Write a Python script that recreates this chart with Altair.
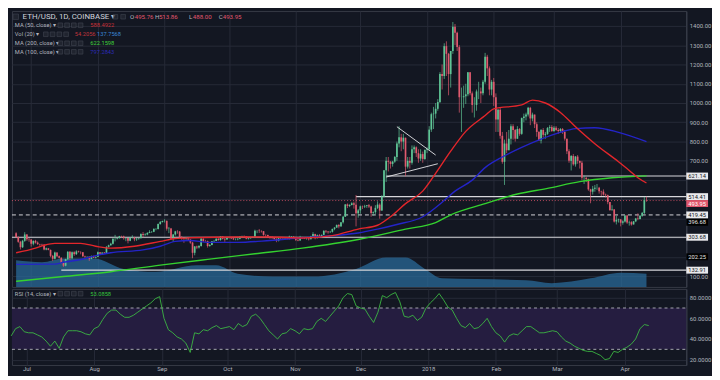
import altair as alt
import pandas as pd

FONT = "Roboto"
BG = "#131722"
GRID = "#262b38"
AXC = "#b2b5be"
UP = "#5fc596"
DOWN = "#e05a6e"
RED_MA = "#e3262b"
BLUE_MA = "#2424c8"
GREEN_MA = "#34d12f"

SX, SY = 704 / 720, 364 / 380
W, H1, H2, AXW = 682, 279, 77, 22

# ---------------- daily candles (Coinbase ETH/USD), 2017-06-24 .. 2018-04-13
FIRST_OPEN = 325
CLOSE_JUN = [305, 280, 252, 285, 318, 293, 292]
HIGH_JUN = [330, 308, 285, 290, 330, 320, 300]
LOW_JUN = [300, 275, 240, 248, 280, 285, 280]
CLOSE_JUL = [270, 285, 276, 268, 266, 265, 240, 246, 238, 207, 192, 224, 205, 197, 170, 156, 190, 228, 195, 226,
             216, 230, 227, 226, 205, 202, 203, 192, 206, 198, 202]
HIGH_JUL = [293, 287, 290, 282, 270, 270, 268, 250, 248, 240, 212, 229, 225, 209, 200, 173, 192, 232, 232, 230,
            231, 236, 234, 231, 226, 208, 206, 205, 209, 208, 204]
LOW_JUL = [255, 262, 271, 264, 259, 258, 236, 236, 236, 200, 180, 188, 200, 193, 168, 150, 153, 185, 187, 190,
           207, 212, 224, 215, 202, 190, 195, 181, 190, 196, 194]
CLOSE_AUG = [226, 218, 224, 221, 254, 262, 270, 296, 296, 299, 309, 308, 299, 300, 286, 301, 302, 293, 296, 298,
             321, 315, 318, 326, 331, 332, 347, 347, 372, 383, 388]
HIGH_AUG = [230, 226, 226, 227, 257, 265, 275, 298, 316, 301, 311, 312, 312, 303, 300, 303, 314, 306, 300, 300,
            324, 331, 324, 330, 340, 335, 350, 351, 375, 388, 390]
LOW_AUG = [201, 217, 212, 217, 220, 250, 260, 266, 282, 292, 297, 300, 291, 283, 272, 283, 297, 283, 285, 291,
           298, 303, 312, 314, 325, 326, 330, 340, 344, 369, 380]
CLOSE_SEP = [389, 348, 349, 296, 318, 334, 333, 304, 298, 294, 297, 292, 276, 223, 256, 250, 258, 296, 284, 283,
             258, 263, 283, 284, 295, 289, 308, 296, 292, 302]
HIGH_SEP = [397, 390, 357, 352, 320, 337, 340, 336, 310, 298, 304, 302, 293, 280, 258, 260, 263, 300, 298, 290,
            286, 268, 284, 290, 300, 300, 310, 310, 299, 304]
LOW_SEP = [380, 338, 325, 290, 280, 312, 322, 300, 290, 275, 290, 290, 270, 195, 210, 242, 245, 255, 279, 281,
           250, 255, 262, 277, 284, 286, 286, 292, 280, 291]
CLOSE_OCT = [303, 298, 293, 293, 296, 308, 310, 309, 297, 299, 303, 303, 338, 338, 336, 335, 316, 315, 308, 304,
             301, 295, 286, 298, 297, 296, 297, 294, 306, 306, 304]
HIGH_OCT = [305, 303, 299, 298, 298, 310, 312, 313, 310, 302, 304, 307, 343, 340, 346, 340, 336, 318, 317, 307,
            310, 303, 298, 301, 301, 299, 300, 299, 312, 310, 310]
LOW_OCT = [297, 294, 289, 288, 288, 293, 302, 304, 293, 292, 296, 300, 300, 325, 326, 328, 312, 300, 306, 296,
           295, 290, 278, 282, 294, 290, 292, 293, 292, 300, 300]
CLOSE_NOV = [290, 287, 305, 300, 297, 297, 293, 309, 320, 299, 314, 307, 316, 337, 333, 330, 332, 347, 354, 367,
             360, 381, 410, 474, 466, 471, 480, 472, 428, 443]
HIGH_NOV = [306, 295, 311, 306, 304, 304, 301, 311, 330, 322, 318, 320, 318, 340, 340, 335, 337, 348, 356, 370,
            372, 381, 415, 475, 479, 475, 485, 488, 523, 450]
LOW_NOV = [284, 283, 286, 295, 294, 291, 287, 293, 305, 293, 298, 300, 303, 314, 326, 322, 326, 328, 340, 352,
           350, 360, 375, 409, 455, 460, 469, 452, 360, 405]
CLOSE_DEC = [464, 463, 466, 470, 463, 430, 434, 456, 473, 442, 515, 651, 700, 695, 684, 696, 720, 790, 822, 800,
             820, 670, 700, 690, 760, 770, 740, 712, 735, 710, 756]
HIGH_DEC = [468, 468, 472, 470, 476, 467, 438, 470, 490, 480, 522, 651, 720, 720, 699, 700, 725, 800, 880, 840,
            840, 820, 720, 720, 780, 780, 775, 760, 760, 748, 760]
LOW_DEC = [426, 450, 455, 456, 455, 410, 415, 425, 450, 400, 440, 510, 590, 645, 660, 670, 690, 700, 770, 750,
           760, 620, 660, 660, 680, 740, 720, 690, 700, 690, 705]
CLOSE_JAN = [760, 862, 942, 945, 970, 1005, 1150, 1140, 1295, 1255, 1150, 1270, 1395, 1365, 1290, 1030, 1030, 1035,
             1045, 1160, 1050, 990, 990, 1060, 1060, 1050, 1110, 1240, 1180, 1070, 1110]
HIGH_JAN = [770, 880, 950, 980, 1000, 1020, 1160, 1200, 1310, 1320, 1260, 1270, 1420, 1410, 1370, 1300, 1080, 1090,
            1100, 1160, 1160, 1060, 1030, 1070, 1110, 1080, 1120, 1260, 1250, 1190, 1120]
LOW_JAN = [740, 755, 850, 865, 920, 960, 1000, 1070, 1125, 1140, 1040, 1080, 1255, 1300, 1270, 950, 850, 975,
           995, 1035, 1040, 950, 925, 960, 1020, 1000, 1040, 1100, 1140, 1040, 1040]
CLOSE_FEB = [1030, 915, 965, 830, 695, 790, 755, 815, 880, 860, 815, 865, 840, 922, 930, 940, 975, 920, 940, 890,
             850, 805, 860, 835, 840, 870, 875, 855]
HIGH_FEB = [1130, 1050, 970, 975, 850, 810, 850, 860, 890, 890, 865, 880, 870, 925, 945, 950, 980, 980, 950, 940,
            900, 855, 865, 870, 850, 875, 885, 885]
LOW_FEB = [985, 850, 850, 815, 685, 575, 740, 755, 785, 810, 800, 815, 830, 835, 900, 910, 930, 885, 905, 870,
           825, 805, 790, 820, 815, 835, 850, 850]
CLOSE_MAR = [872, 860, 855, 865, 850, 815, 750, 700, 725, 682, 722, 700, 690, 612, 612, 605, 552, 540, 555, 560,
             560, 542, 540, 525, 522, 486, 445, 448, 385, 394, 396]
HIGH_MAR = [880, 880, 870, 870, 870, 860, 815, 760, 730, 735, 725, 730, 700, 700, 624, 616, 608, 555, 570, 575,
            580, 565, 545, 552, 530, 525, 486, 470, 450, 415, 400]
LOW_MAR = [850, 855, 840, 850, 840, 805, 735, 690, 650, 675, 670, 685, 660, 600, 580, 590, 545, 480, 525, 540,
           550, 530, 518, 520, 510, 475, 440, 440, 380, 370, 380]
CLOSE_APR = [379, 386, 416, 380, 382, 370, 386, 401, 398, 415, 430, 495.76, 493.95]
HIGH_APR = [398, 392, 418, 420, 390, 387, 388, 404, 428, 418, 435, 513, 513.86]
LOW_APR = [360, 369, 380, 373, 364, 364, 370, 382, 392, 396, 410, 424, 488]

CLOSE = CLOSE_JUN + CLOSE_JUL + CLOSE_AUG + CLOSE_SEP + CLOSE_OCT + CLOSE_NOV + CLOSE_DEC + CLOSE_JAN + CLOSE_FEB + CLOSE_MAR + CLOSE_APR
HIGH = HIGH_JUN + HIGH_JUL + HIGH_AUG + HIGH_SEP + HIGH_OCT + HIGH_NOV + HIGH_DEC + HIGH_JAN + HIGH_FEB + HIGH_MAR + HIGH_APR
LOW = LOW_JUN + LOW_JUL + LOW_AUG + LOW_SEP + LOW_OCT + LOW_NOV + LOW_DEC + LOW_JAN + LOW_FEB + LOW_MAR + LOW_APR

# ---------------- indicator lines
MA50_D = ["2017-06-24", "2017-07-03", "2017-07-07", "2017-07-12", "2017-07-24", "2017-07-31", "2017-08-07",
          "2017-08-18", "2017-08-30", "2017-09-06", "2017-09-13", "2017-10-05", "2017-10-20", "2017-11-04",
          "2017-11-18", "2017-11-30", "2017-12-09", "2017-12-15", "2017-12-22", "2017-12-30", "2018-01-05",
          "2018-01-12", "2018-01-19", "2018-01-28", "2018-02-01", "2018-02-14", "2018-02-19", "2018-02-25",
          "2018-03-04", "2018-03-11", "2018-03-20", "2018-03-31", "2018-04-05", "2018-04-09", "2018-04-13"]
MA50_V = [223, 247, 262, 272, 272, 257, 247, 257, 282, 297, 301, 305, 305, 300, 312, 346, 366, 410, 478, 543,
          635, 750, 853, 935, 970, 990, 1015, 1000, 951, 877, 789, 695, 650, 612, 585]
MA100_D = ["2017-06-24", "2017-07-12", "2017-07-16", "2017-07-24", "2017-07-31", "2017-08-07", "2017-08-22",
           "2017-08-30", "2017-09-06", "2017-09-13", "2017-09-21", "2017-10-05", "2017-10-20", "2017-11-04",
           "2017-11-18", "2017-11-30", "2017-12-09", "2017-12-18", "2017-12-30", "2018-01-08", "2018-01-14",
           "2018-01-22", "2018-01-28", "2018-02-05", "2018-02-14", "2018-02-23", "2018-03-04", "2018-03-11",
           "2018-03-20", "2018-03-31", "2018-04-13"]
MA100_V = [163, 164, 174, 188, 208, 223, 238, 257, 282, 287, 277, 277, 287, 301, 312, 326, 346, 370, 410, 485,
           543, 600, 665, 720, 770, 813, 848, 867, 872, 848, 800]
MA200_D = ["2017-06-24", "2017-07-16", "2017-08-07", "2017-08-30", "2017-09-21", "2017-10-13", "2017-11-04",
           "2017-11-30", "2017-12-22", "2018-01-05", "2018-01-12", "2018-01-28", "2018-02-12", "2018-02-26",
           "2018-03-13", "2018-03-28", "2018-04-13"]
MA200_V = [75, 100, 125, 159, 189, 218, 247, 292, 346, 380, 420, 478, 528, 557, 592, 612, 622]
VOL_D = ["2017-06-24", "2017-07-06", "2017-07-16", "2017-07-30", "2017-08-13", "2017-08-28", "2017-09-16",
         "2017-09-25", "2017-10-05", "2017-10-21", "2017-11-09", "2017-11-29", "2017-12-13", "2017-12-22",
         "2017-12-31", "2018-01-08", "2018-02-16", "2018-02-28", "2018-03-18", "2018-04-01", "2018-04-13"]
VOL_V = [276, 256, 295, 295, 187, 157, 226, 226, 138, 108, 108, 187, 305, 305, 187, 89, 69, 39, 89, 148, 138]

# RSI(14), read every second day from 2017-06-24
RSI = [43, 50, 52, 47, 46, 46, 44, 42, 38, 33, 38, 31, 42, 48, 48, 48, 47, 45, 44, 50,
       52, 59, 65, 68, 68, 64, 61, 61, 63, 66, 69, 72, 75, 79, 81, 60, 49, 46, 42, 40,
       36, 27, 46, 45, 49, 48, 51, 53, 50, 51, 52, 49, 55, 52, 54, 62, 64, 60, 54, 48,
       44, 40, 45, 46, 50, 48, 45, 50, 49, 50, 57, 60, 57, 62, 67, 72, 80, 84, 83, 72,
       70, 69, 62, 56, 66, 82, 80, 83, 85, 76, 62, 61, 63, 58, 61, 70, 75, 79, 84, 78,
       71, 68, 60, 53, 51, 55, 50, 51, 55, 60, 52, 46, 43, 37, 43, 45, 44, 48, 52, 52,
       49, 46, 46, 47, 48, 47, 42, 38, 36, 33, 31, 29, 28, 28, 26, 24, 20, 21, 28, 27,
       30, 32, 35, 40, 50, 54, 53]

# drawn trendlines and horizontal levels
TL_ID = ["upper", "upper", "lower", "lower"]
TL_D = ["2017-12-18", "2018-01-05", "2017-12-13", "2018-01-06"]
TL_P = [877, 730, 616, 685]
RAY_D = ["2017-12-13", "2017-11-29", "2017-07-15"]
RAY_P = [621.14, 514.41, 132.91]
FULL_LINE = 303.68
DASH_LEVEL = 419.45
LAST_PRICE = 493.95
AXIS_TAGS = [621.14, 514.41, 493.95, 419.45, 396.68, 303.68, 202.25, 132.91]
TAG_KIND = ["ray", "ray", "last", "ray", "mark", "ray", "mark", "ray"]

# ---------------- frames
dates = pd.date_range("2017-06-24", periods=len(CLOSE), freq="D")
assert len(CLOSE) == len(HIGH) == len(LOW) == 294
opens = [FIRST_OPEN] + CLOSE[:-1]
candles = pd.DataFrame({"date": dates.strftime("%Y-%m-%d"), "open": opens, "close": CLOSE,
                        "high": HIGH, "low": LOW})
candles["high"] = candles[["high", "open", "close"]].max(axis=1)
candles["low"] = candles[["low", "open", "close"]].min(axis=1)
candles["dir"] = ["up" if c >= o else "down" for o, c in zip(candles.open, candles.close)]

rsi_df = pd.DataFrame({"date": pd.date_range("2017-06-24", periods=len(RSI), freq="2D").strftime("%Y-%m-%d"),
                       "rsi": RSI})

XS = alt.Scale(type="utc", domain=[alt.DateTime(year=2017, month=6, date=24, hours=8, minutes=38, utc=True),
                                   alt.DateTime(year=2018, month=4, date=29, hours=5, utc=True)])
MONTHS = [alt.DateTime(year=y, month=m, date=1, utc=True)
          for y, m in [(2017, 7), (2017, 8), (2017, 9), (2017, 10), (2017, 11), (2017, 12),
                       (2018, 1), (2018, 2), (2018, 3), (2018, 4)]]
AX_X_MAIN = alt.Axis(values=MONTHS, labels=False, ticks=False, domain=False, grid=True, gridColor=GRID,
                     title=None, minExtent=0, maxExtent=0)
AX_X_RSI = alt.Axis(values=MONTHS, labelExpr="utcFormat(datum.value, '%m') == '01' ? utcFormat(datum.value, '%Y') : utcFormat(datum.value, '%b')",
                    labelColor=AXC, labelFontSize=6, labelFont=FONT, labelPadding=1, ticks=False,
                    domain=False, grid=True, gridColor=GRID, title=None, minExtent=8, maxExtent=8,
                    labelFlush=False)
PY = alt.Scale(domain=[46, 1477], zero=False, nice=False)
# price labels that sit under the level tags on the right are left blank, as in the reference
AX_PY = alt.Axis(orient="right", values=list(range(100, 1500, 100)),
                 labelExpr="datum.value >= 200 && datum.value <= 600 ? '' : format(datum.value, '.2f')",
                 labelColor=AXC, labelFontSize=6, labelFont=FONT, labelPadding=3, ticks=False, domain=True,
                 domainColor="#3b404d", grid=True, gridColor=GRID, title=None, minExtent=AXW, maxExtent=AXW)
RY = alt.Scale(domain=[14.8, 88.5], zero=False, nice=False)
AX_RY = alt.Axis(orient="right", values=[20, 40, 60, 80], format=".4f", labelColor=AXC, labelFontSize=6,
                 labelFont=FONT, labelPadding=3, ticks=False, domain=True, domainColor="#3b404d",
                 grid=True, gridColor=GRID, title=None, minExtent=AXW, maxExtent=AXW)


def XM(field="date"):
    return alt.X(field + ":T", scale=XS, axis=AX_X_MAIN)


def YP(field):
    return alt.Y(field + ":Q", scale=PY, axis=AX_PY)


def XR(field="date"):
    return alt.X(field + ":T", scale=XS, axis=AX_X_RSI)


def YR(field):
    return alt.Y(field + ":Q", scale=RY, axis=AX_RY)


def text(txt, xr, yr, color, size, top=0, weight="normal"):
    return alt.Chart(pd.DataFrame({"t": [txt]})).mark_text(
        align="left", baseline="middle", font=FONT, fontSize=size, color=color, fontWeight=weight
    ).encode(x=alt.value(xr * SX), y=alt.value((yr - top) * SY), text="t:N")


def icon(xr, yr, top=0, s=22):
    return alt.Chart(pd.DataFrame({"i": [0]})).mark_square(
        size=s, filled=True, color="#262a35", stroke="#555a66", strokeWidth=0.6
    ).encode(x=alt.value(xr * SX), y=alt.value((yr - top) * SY))


# ---------------- main panel
vol = alt.Chart(pd.DataFrame({"date": VOL_D, "vol": VOL_V})).mark_area(
    interpolate="monotone", color="#2a6a98", opacity=0.75
).encode(x=XM(), y=alt.Y("vol:Q", scale=alt.Scale(domain=[0, 2864], nice=False), axis=None))

rays = alt.Chart(pd.DataFrame({"date": RAY_D, "price": RAY_P})).mark_rule(
    color="#d6d6da", strokeWidth=1.1).encode(x=XM(), x2=alt.value(W), y=YP("price"))
full = alt.Chart(pd.DataFrame({"price": [FULL_LINE]})).mark_rule(
    color="#d6d6da", strokeWidth=1.1).encode(x=alt.value(0), x2=alt.value(W), y=YP("price"))
dash = alt.Chart(pd.DataFrame({"price": [DASH_LEVEL]})).mark_rule(
    color="#d6d6da", strokeWidth=1, strokeDash=[4, 3]).encode(x=alt.value(0), x2=alt.value(W), y=YP("price"))
lastl = alt.Chart(pd.DataFrame({"price": [LAST_PRICE]})).mark_rule(
    color="#e0566c", strokeWidth=0.8, strokeDash=[1, 2]).encode(x=alt.value(0), x2=alt.value(W), y=YP("price"))

ccol = alt.Color("dir:N", scale=alt.Scale(domain=["up", "down"], range=[UP, DOWN]), legend=None)
wicks = alt.Chart(candles).mark_rule(strokeWidth=0.7).encode(x=XM(), y=YP("low"), y2="high:Q", color=ccol)
bodies = alt.Chart(candles).mark_bar(size=1.7).encode(x=XM(), y=YP("open"), y2="close:Q", color=ccol)


def ma(d, v, color):
    return alt.Chart(pd.DataFrame({"date": d, "value": v})).mark_line(
        color=color, strokeWidth=1.4, interpolate="monotone").encode(x=XM(), y=YP("value"))


trend = alt.Chart(pd.DataFrame({"id": TL_ID, "date": TL_D, "price": TL_P})).mark_line(
    color="#e6e6ea", strokeWidth=0.9).encode(x=XM(), y=YP("price"), detail="id:N")

tags = pd.DataFrame({"price": AXIS_TAGS, "kind": TAG_KIND})
tags["txt"] = [f"{p:.2f}" for p in tags.price]
tags["bg"] = tags.kind.map({"ray": "#e9e9ec", "last": "#e0566c", "mark": "#000000"})
tags["fg"] = tags.kind.map({"ray": "#131722", "last": "#ffffff", "mark": "#e6e6e6"})
SHIFTED = {493.95, 396.68}
tag_layers = []
for shifted in (False, True):
    sub = tags[[(p in SHIFTED) == shifted for p in tags.price]]
    off = 3 if shifted else 0
    tag_layers.append(alt.Chart(sub).mark_tick(orient="horizontal", size=AXW, thickness=7, opacity=1,
                                              yOffset=off).encode(
        x=alt.value(W + AXW / 2), y=YP("price"), color=alt.Color("bg:N", scale=None)))
    tag_layers.append(alt.Chart(sub).mark_text(align="left", baseline="middle", font=FONT, fontSize=5.8,
                                              yOffset=off).encode(
        x=alt.value(W + 2), y=YP("price"), text="txt:N", color=alt.Color("fg:N", scale=None)))

hdr = [
    icon(4, 6, s=30),
    text("ETH/USD, 1D, COINBASE ▾", 11, 6, "#d1d4dc", 8),
    icon(107, 6), icon(115, 6),
    text("O", 122, 6, AXC, 6.2), text("495.76", 127, 6, "#e0566c", 6.2),
    text("H", 148, 6, AXC, 6.2), text("513.86", 152, 6, "#e0566c", 6.2),
    text("L", 183, 6, AXC, 6.2), text("488.00", 187, 6, "#e0566c", 6.2),
    text("C", 214, 6, AXC, 6.2), text("493.95", 218, 6, "#e0566c", 6.2),
]
rows = [("MA (50, close) ▾", 15, [50, 57, 64, 71], [("588.4922", 81, "#c62f37")]),
        ("Vol (20) ▾", 24.5, [35, 42, 49, 56], [("54.2056", 65, "#c0353d"), ("137.7568", 88, "#3a86d6")]),
        ("MA (200, close) ▾", 34, [50, 57, 64, 71], [("622.1598", 81, "#40d33b")]),
        ("MA (100, close) ▾", 43, [50, 57, 64, 71], [("797.2843", 81, "#2b2bb8")])]
for name, yr, ics, vals in rows:
    hdr.append(text(name, 3, yr, AXC, 5.8))
    hdr += [icon(x, yr) for x in ics]
    hdr += [text(v, x, yr, c, 5.8) for v, x, c in vals]

price_layers = alt.layer(
    rays, full, dash, lastl, wicks, bodies,
    ma(MA200_D, MA200_V, GREEN_MA), ma(MA100_D, MA100_V, BLUE_MA), ma(MA50_D, MA50_V, RED_MA),
    trend, *tag_layers, *hdr
)
main = alt.layer(vol, price_layers).resolve_scale(y="independent").properties(width=W, height=H1)

# ---------------- RSI panel
TOP = 291
band = alt.Chart(pd.DataFrame({"lo": [30], "hi": [70]})).mark_rect(color="#251d40").encode(
    x=alt.value(0), x2=alt.value(W), y=YR("lo"), y2="hi:Q")
lvls = alt.Chart(pd.DataFrame({"lvl": [30, 70]})).mark_rule(
    color="#c8c8d0", strokeWidth=0.8, strokeDash=[3, 3]).encode(x=alt.value(0), x2=alt.value(W), y=YR("lvl"))
rsi_line = alt.Chart(rsi_df).mark_line(color="#3cb843", strokeWidth=0.9).encode(x=XR(), y=YR("rsi"))
rsi_txt = [text("RSI (14, close) ▾", 3, 296, AXC, 5.8, top=TOP)] + \
          [icon(x, 296, top=TOP) for x in [50, 57, 64, 71]] + \
          [text("53.0858", 81, 296, "#35c43c", 5.8, top=TOP)]
rsi = alt.layer(band, lvls, rsi_line, *rsi_txt).properties(width=W, height=H2)

chart = alt.vconcat(main, rsi, spacing=0).properties(padding=0, background=BG).configure_view(
    stroke="#363a45", strokeWidth=1, fill=BG)

chart.save("out.html", embed_options={"renderer": "svg", "actions": False})
